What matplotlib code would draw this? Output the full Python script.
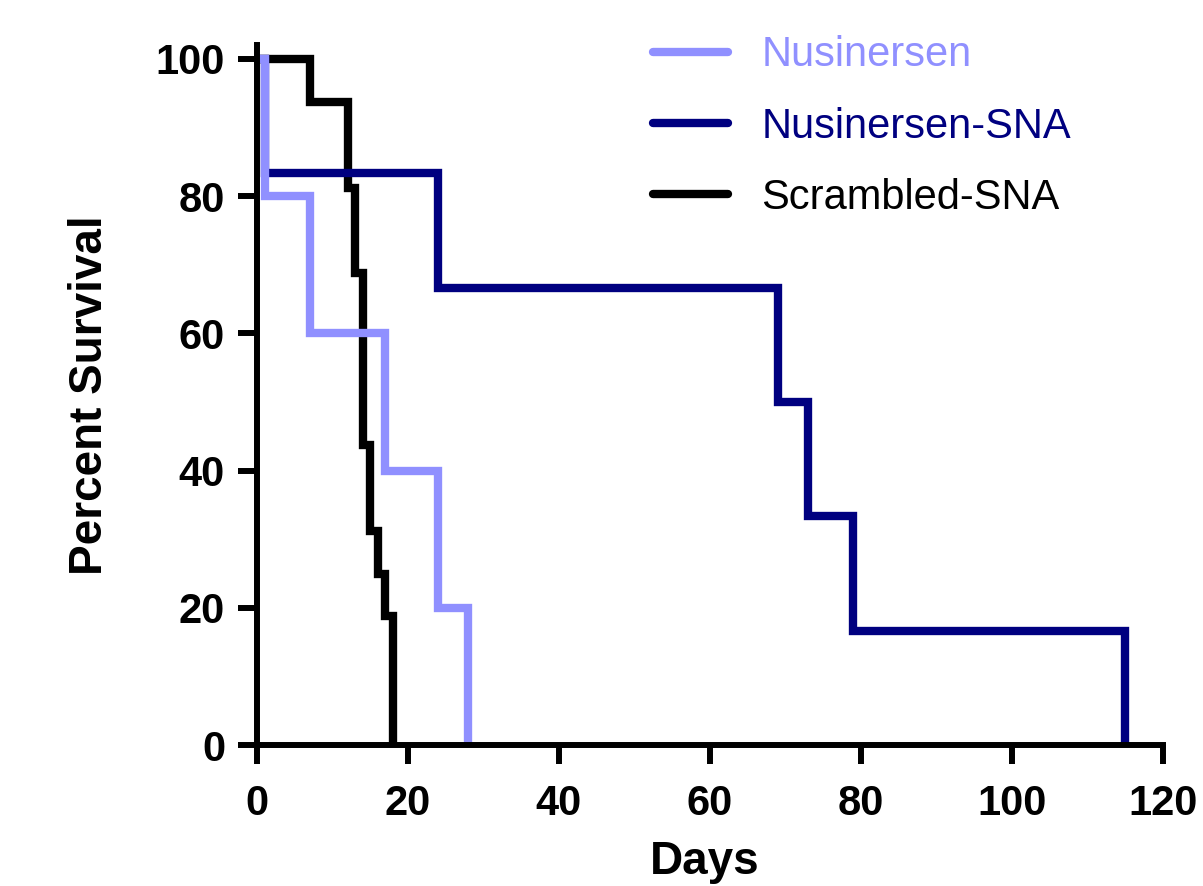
import matplotlib.pyplot as plt

plt.rcParams['font.family'] = ['Liberation Sans', 'DejaVu Sans']

# Kaplan-Meier steps
nus_days = [0, 1, 7, 17, 24, 28]
nus_surv = [100, 80, 60, 40, 20, 0]

sna_days = [0, 1, 24, 69, 73, 79, 115]
sna_surv = [100, 83.33, 66.67, 50, 33.33, 16.67, 0]

scr_days = [0, 7, 12, 13, 14, 15, 16, 17, 18]
scr_surv = [100, 93.75, 81.25, 68.75, 43.75, 31.25, 25, 18.75, 0]

x_ticks = [0, 20, 40, 60, 80, 100, 120]
y_ticks = [0, 20, 40, 60, 80, 100]

light = "#9090ff"
navy = "#000080"

fig = plt.figure(figsize=(12.03, 8.86), dpi=100)
ax = fig.add_axes([0.2136, 0.159, 0.7532, 0.790])

lw = 6.0
ax.plot(scr_days, scr_surv, drawstyle="steps-post", color="black", lw=lw,
        solid_capstyle="round", solid_joinstyle="miter", label="Scrambled-SNA", zorder=3)
ax.plot(sna_days, sna_surv, drawstyle="steps-post", color=navy, lw=lw,
        solid_capstyle="round", solid_joinstyle="miter", label="Nusinersen-SNA", zorder=4)
ax.plot(nus_days, nus_surv, drawstyle="steps-post", color=light, lw=lw,
        solid_capstyle="round", solid_joinstyle="miter", label="Nusinersen", zorder=5)

ax.set_xlim(0, 120)
ax.set_ylim(0, 102)
ax.set_xticks(x_ticks)
ax.set_yticks(y_ticks)

for side in ["top", "right"]:
    ax.spines[side].set_visible(False)
for side in ["left", "bottom"]:
    ax.spines[side].set_linewidth(4.3)
    ax.spines[side].set_zorder(6)

ax.tick_params(axis="both", direction="out", length=14, width=4.3, labelsize=30)
ax.tick_params(axis="y", pad=9)
ax.tick_params(axis="x", pad=14)
for lab in ax.get_xticklabels() + ax.get_yticklabels():
    lab.set_fontweight("bold")

ax.set_ylabel("Percent Survival", fontsize=33, fontweight="bold")
ax.yaxis.set_label_coords(-0.160, 0.5)
ax.set_xlabel("Days", fontsize=33, fontweight="bold")
ax.xaxis.set_label_coords(0.494, -0.135)

handles, labels = ax.get_legend_handles_labels()
order = [2, 1, 0]
leg = ax.legend([handles[i] for i in order], [labels[i] for i in order],
                loc="upper left", bbox_to_anchor=(653 / 1203, 0.960),
                bbox_transform=fig.transFigure, frameon=False, fontsize=30,
                handlelength=1.8, handletextpad=0.8, labelspacing=0.75,
                borderpad=0, borderaxespad=0, labelcolor="linecolor")

plt.savefig("out.png", dpi=100)
plt.close()
